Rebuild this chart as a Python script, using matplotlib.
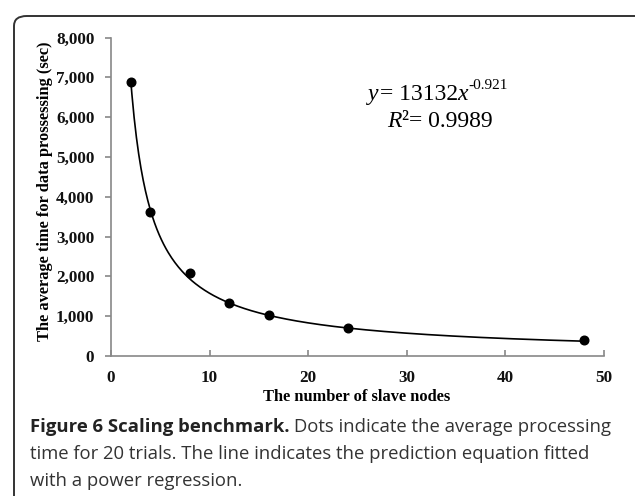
import matplotlib
matplotlib.use("Agg")
import matplotlib.pyplot as plt
import numpy as np
from matplotlib.patches import FancyBboxPatch

# Data
nodes = [2, 4, 8, 12, 16, 24, 48]
avg_time = [6875, 3620, 2075, 1320, 1035, 695, 390]
fit_a = 13132
fit_b = -0.921
x_ticks = [0, 10, 20, 30, 40, 50]
y_ticks = [0, 1000, 2000, 3000, 4000, 5000, 6000, 7000, 8000]

W, H = 635, 496
fig = plt.figure(figsize=(W / 100, H / 100), dpi=100)

# rounded frame (only top & left visible)
frame = FancyBboxPatch((14 / W, -0.1), (633 - 14) / W + 0.1, (H - 16) / H + 0.1,
                       boxstyle="round,pad=0,rounding_size=0.02",
                       transform=fig.transFigure, fill=False,
                       edgecolor='#333333', linewidth=1.4, zorder=0)
fig.patches.append(frame)

ax = fig.add_axes([111 / W, 1 - 356 / H, (604 - 111) / W, (356 - 37.5) / H])

xf = np.linspace(min(nodes), max(nodes), 400)
ax.plot(xf, fit_a * xf ** fit_b, color='black', linewidth=1.2, zorder=2)
ax.plot(nodes, avg_time, 'o', color='black', markersize=6.2, zorder=3)

ax.set_xlim(0, 50)
ax.set_ylim(0, 8000)
ax.set_xticks(x_ticks)
ax.set_yticks(y_ticks)
ax.set_xticklabels([str(v) for v in x_ticks])
ax.set_yticklabels([f"{v:,}" for v in y_ticks])

for s in ['top', 'right']:
    ax.spines[s].set_visible(False)
for s in ['left', 'bottom']:
    ax.spines[s].set_color('#888888')
    ax.spines[s].set_linewidth(1.2)

ax.tick_params(axis='x', direction='in', length=4, width=1.2, color='#888888', pad=10)
ax.tick_params(axis='y', direction='out', length=4, width=1.2, color='#888888', pad=8)
for lab in ax.get_xticklabels() + ax.get_yticklabels():
    lab.set_fontfamily('Liberation Serif')
    lab.set_fontweight('bold')
    lab.set_fontsize(12.3)
    lab.set_color('#111111')

fig.text(357 / W, 1 - 401 / H, "The number of slave nodes", ha='center', va='baseline',
         fontfamily='Liberation Serif', fontweight='bold', fontsize=11.8)
fig.text(45 / W, 1 - 191 / H, "The average time for data prossessing (sec)", ha='center', va='center',
         rotation=90, fontfamily='Liberation Serif', fontweight='bold', fontsize=11.8)

# equation
fig.canvas.draw()
r = fig.canvas.get_renderer()
eq_y = fig.text(368 / W, 1 - 100 / H, "y", ha='left', va='baseline',
                fontfamily='Liberation Serif', fontstyle='italic', fontsize=17)
b = eq_y.get_window_extent(r)
eq_m = fig.text((b.x1 + 1) / W, 1 - 100 / H, "= 13132", ha='left', va='baseline',
                fontfamily='Liberation Serif', fontsize=17)
b = eq_m.get_window_extent(r)
eq_x = fig.text(b.x1 / W, 1 - 100 / H, "x", ha='left', va='baseline',
                fontfamily='Liberation Serif', fontstyle='italic', fontsize=17)
b = eq_x.get_window_extent(r)
fig.text(b.x1 / W, 1 - 89 / H, f"{fit_b}", ha='left', va='baseline',
         fontfamily='Liberation Serif', fontsize=11)

r_R = fig.text(387 / W, 1 - 127 / H, "R", ha='left', va='baseline',
               fontfamily='Liberation Serif', fontstyle='italic', fontsize=17)
b = r_R.get_window_extent(r)
fig.text((b.x1 + 1) / W, 1 - 127 / H, "²= 0.9989", ha='left', va='baseline',
         fontfamily='Liberation Serif', fontsize=17)

# caption
cap_color = '#333333'
fs = 13.3
t1 = fig.text(30 / W, 1 - 432 / H, "Figure 6 Scaling benchmark.", ha='left', va='baseline',
              fontfamily='Open Sans', fontweight='bold', fontsize=fs, color='#222222')
bb = t1.get_window_extent(r)
fig.text((bb.x1 + 5) / W, 1 - 432 / H, "Dots indicate the average processing", ha='left', va='baseline',
         fontfamily='Open Sans', fontsize=fs, color=cap_color)
fig.text(30 / W, 1 - 459 / H, "time for 20 trials. The line indicates the prediction equation fitted",
         ha='left', va='baseline', fontfamily='Open Sans', fontsize=fs, color=cap_color)
fig.text(30 / W, 1 - 486 / H, "with a power regression.",
         ha='left', va='baseline', fontfamily='Open Sans', fontsize=fs, color=cap_color)

fig.savefig("out.png", dpi=100)
